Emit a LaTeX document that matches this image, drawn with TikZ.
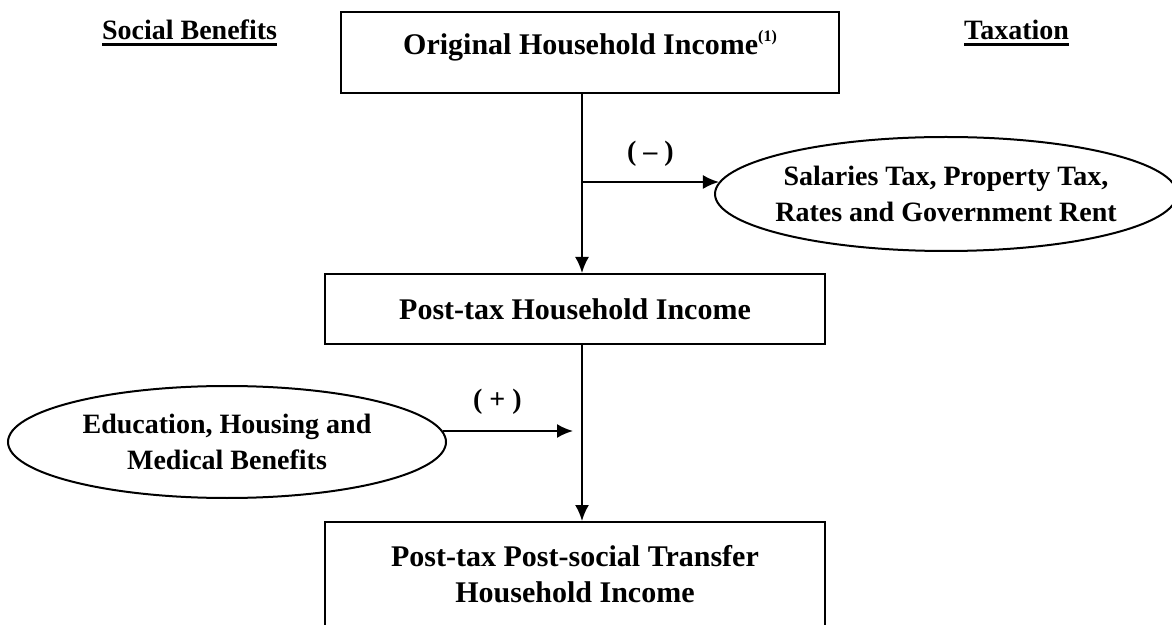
\documentclass[tikz,border=0pt]{standalone}
\usepackage{fontspec}
\setmainfont{Liberation Serif}
\usepackage{tikz}
\usetikzlibrary{arrows.meta,calc,positioning,shapes.geometric}

\newcommand{\headul}[1]{\setbox0\hbox{#1}\rlap{\copy0}\rule[-3pt]{\wd0}{1.5pt}}

\begin{document}
\begin{tikzpicture}[x=0.5pt, y=-0.5pt, line width=1pt, >={Latex[length=8pt,width=7pt]},
  box/.style={draw, align=center, font=\fontsize{15}{18}\selectfont\bfseries},
  oval/.style={draw, ellipse, align=center, inner sep=0pt, font=\fontsize{14}{18}\selectfont\bfseries},
  head/.style={anchor=base, inner sep=0pt, font=\fontsize{14}{18}\selectfont\bfseries},
  sign/.style={inner sep=2pt, font=\fontsize{14}{18}\selectfont\bfseries}]

\useasboundingbox (0,0) rectangle (1172,625);
\clip (0,0) rectangle (1172,625);

% headings
\node[head] (soc) at (189.5,40) {\headul{Social Benefits}};
\node[head] (taxhd) at (1016.5,40) {\headul{Taxation}};

% income boxes
\node[box, minimum width=249pt, minimum height=40.5pt, text height=11pt, text depth=8.5pt] (orig) at (590,52.5)
  {Original Household Income\raisebox{6.5pt}{\fontsize{8}{8}\selectfont(1)}};
\node[box, minimum width=250pt, minimum height=35pt, text height=10.5pt, text depth=0pt] (post) at (575,309)
  {Post-tax Household Income};
\node[box, anchor=north, minimum width=250pt, inner ysep=11.5pt, text height=28.5pt, text depth=60pt] (final) at (575,521)
  {Post-tax Post-social Transfer\\Household Income};

% taxes and benefits
\node[oval, minimum width=231pt, minimum height=57pt, inner xsep=-4pt] (tax) at (946,194)
  {Salaries Tax, Property Tax,\\Rates and Government Rent};
\node[oval, minimum width=219pt, minimum height=56pt] (edu) at (227,442)
  {Education, Housing and\\Medical Benefits};

% flow
\coordinate (j1) at (582,182);
\coordinate (j2) at (573,431);
\draw[->] (orig.south -| j1) -- (post.north -| j1);
\draw[->] (j1) -- node[sign, above=5.5pt] (minus) {( -- )} (tax.177 |- j1);
\draw[->] (post.south -| j1) -- (final.north -| j1);
\draw[->] (edu.3 |- j2) -- node[sign, above=6pt, pos=0.42] (plus) {( + )} (j2);

\end{tikzpicture}
\end{document}
